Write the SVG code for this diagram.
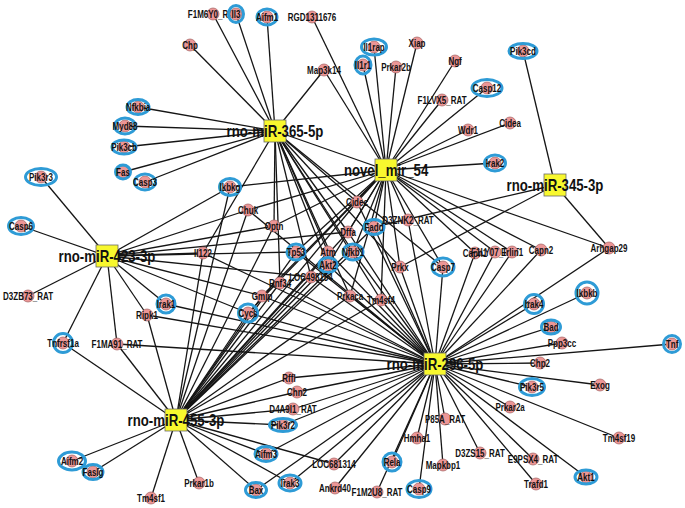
<svg xmlns="http://www.w3.org/2000/svg" width="685" height="508" viewBox="0 0 685 508">
<style>
.e line{stroke:#151515;stroke-width:1.3;}
.n{fill:#ec9696;stroke:#a06060;stroke-width:0.7;}
.r{fill:none;stroke:#2e9bd6;stroke-width:3;}
.h{fill:#f8f82e;stroke:#6a6a6a;stroke-width:0.8;}
.t{font-family:"Liberation Sans",Arial,sans-serif;font-size:10px;font-weight:bold;text-anchor:middle;fill:#111;transform-box:fill-box;transform-origin:center;transform:scaleX(0.8);}
.ht{font-family:"Liberation Sans",Arial,sans-serif;font-size:16.5px;font-weight:bold;text-anchor:middle;fill:#111;transform-box:fill-box;transform-origin:center;transform:scaleX(0.8);}
</style>
<rect width="685" height="508" fill="#fff"/>
<g id="connectors" class="e">
<!-- rno-miR-365-5p -->
<line x1="275" y1="131" x2="213" y2="14"/><line x1="275" y1="131" x2="236" y2="14"/><line x1="275" y1="131" x2="267" y2="17"/><line x1="275" y1="131" x2="190" y2="45"/><line x1="275" y1="131" x2="324" y2="70"/><line x1="275" y1="131" x2="138" y2="107"/><line x1="275" y1="131" x2="125" y2="126"/><line x1="275" y1="131" x2="124" y2="147"/><line x1="275" y1="131" x2="123" y2="172"/><line x1="275" y1="131" x2="145" y2="182"/><line x1="275" y1="131" x2="203" y2="253"/><line x1="275" y1="131" x2="274" y2="226"/><line x1="275" y1="131" x2="280" y2="283"/><line x1="275" y1="131" x2="328" y2="252"/><line x1="275" y1="131" x2="328" y2="265"/><line x1="275" y1="131" x2="353" y2="252"/><line x1="275" y1="131" x2="348" y2="232"/><line x1="275" y1="131" x2="357" y2="202"/><line x1="275" y1="131" x2="350" y2="296"/><line x1="275" y1="131" x2="381" y2="300"/><line x1="275" y1="131" x2="443" y2="267"/><line x1="275" y1="131" x2="400" y2="267"/><line x1="275" y1="131" x2="311" y2="277"/><line x1="275" y1="131" x2="609" y2="248"/>
<!-- novel_mir_54 -->
<line x1="386" y1="170" x2="312" y2="17"/><line x1="386" y1="170" x2="324" y2="70"/><line x1="386" y1="170" x2="374" y2="47"/><line x1="386" y1="170" x2="363" y2="65"/><line x1="386" y1="170" x2="396" y2="67"/><line x1="386" y1="170" x2="417" y2="43"/><line x1="386" y1="170" x2="455" y2="61"/><line x1="386" y1="170" x2="442" y2="100"/><line x1="386" y1="170" x2="487" y2="88"/><line x1="386" y1="170" x2="468" y2="130"/><line x1="386" y1="170" x2="510" y2="123"/><line x1="386" y1="170" x2="495" y2="163"/><line x1="386" y1="170" x2="230" y2="187"/><line x1="386" y1="170" x2="248" y2="210"/><line x1="386" y1="170" x2="274" y2="226"/><line x1="386" y1="170" x2="296" y2="252"/><line x1="386" y1="170" x2="357" y2="202"/><line x1="386" y1="170" x2="348" y2="232"/><line x1="386" y1="170" x2="374" y2="227"/><line x1="386" y1="170" x2="353" y2="252"/><line x1="386" y1="170" x2="328" y2="265"/><line x1="386" y1="170" x2="408" y2="220"/><line x1="386" y1="170" x2="400" y2="267"/><line x1="386" y1="170" x2="443" y2="267"/><line x1="386" y1="170" x2="475" y2="253"/><line x1="386" y1="170" x2="495" y2="252"/><line x1="386" y1="170" x2="512" y2="252"/><line x1="386" y1="170" x2="541" y2="250"/><line x1="386" y1="170" x2="381" y2="300"/><line x1="386" y1="170" x2="350" y2="296"/><line x1="386" y1="170" x2="262" y2="296"/><line x1="386" y1="170" x2="248" y2="313"/>
<!-- rno-miR-345-3p -->
<line x1="555" y1="185" x2="523" y2="51"/><line x1="555" y1="185" x2="609" y2="248"/><line x1="555" y1="185" x2="374" y2="227"/><line x1="555" y1="185" x2="400" y2="267"/>
<!-- rno-miR-423-3p -->
<line x1="107" y1="256" x2="41" y2="177"/><line x1="107" y1="256" x2="21" y2="226"/><line x1="107" y1="256" x2="28" y2="296"/><line x1="107" y1="256" x2="63" y2="343"/><line x1="107" y1="256" x2="117" y2="344"/><line x1="107" y1="256" x2="147" y2="315"/><line x1="107" y1="256" x2="166" y2="304"/><line x1="107" y1="256" x2="203" y2="253"/><line x1="107" y1="256" x2="296" y2="252"/><line x1="107" y1="256" x2="230" y2="187"/><line x1="107" y1="256" x2="248" y2="210"/><line x1="107" y1="256" x2="274" y2="226"/><line x1="107" y1="256" x2="348" y2="232"/><line x1="107" y1="256" x2="311" y2="277"/><line x1="107" y1="256" x2="262" y2="296"/><line x1="107" y1="256" x2="248" y2="313"/>
<!-- rno-miR-296-5p -->
<line x1="435" y1="364" x2="443" y2="267"/><line x1="435" y1="364" x2="400" y2="267"/><line x1="435" y1="364" x2="381" y2="300"/><line x1="435" y1="364" x2="374" y2="227"/><line x1="435" y1="364" x2="353" y2="252"/><line x1="435" y1="364" x2="348" y2="232"/><line x1="435" y1="364" x2="357" y2="202"/><line x1="435" y1="364" x2="328" y2="252"/><line x1="435" y1="364" x2="328" y2="265"/><line x1="435" y1="364" x2="296" y2="252"/><line x1="435" y1="364" x2="311" y2="277"/><line x1="435" y1="364" x2="280" y2="283"/><line x1="435" y1="364" x2="262" y2="296"/><line x1="435" y1="364" x2="248" y2="313"/><line x1="435" y1="364" x2="350" y2="296"/><line x1="435" y1="364" x2="248" y2="210"/><line x1="435" y1="364" x2="203" y2="253"/><line x1="435" y1="364" x2="147" y2="315"/><line x1="435" y1="364" x2="166" y2="304"/><line x1="435" y1="364" x2="117" y2="344"/><line x1="435" y1="364" x2="408" y2="220"/><line x1="435" y1="364" x2="475" y2="253"/><line x1="435" y1="364" x2="495" y2="252"/><line x1="435" y1="364" x2="512" y2="252"/><line x1="435" y1="364" x2="541" y2="250"/><line x1="435" y1="364" x2="609" y2="248"/><line x1="435" y1="364" x2="534" y2="304"/><line x1="435" y1="364" x2="587" y2="293"/><line x1="435" y1="364" x2="551" y2="327"/><line x1="435" y1="364" x2="562" y2="343"/><line x1="435" y1="364" x2="672" y2="344"/><line x1="435" y1="364" x2="540" y2="363"/><line x1="435" y1="364" x2="532" y2="387"/><line x1="435" y1="364" x2="600" y2="385"/><line x1="435" y1="364" x2="510" y2="407"/><line x1="435" y1="364" x2="619" y2="438"/><line x1="435" y1="364" x2="586" y2="477"/><line x1="435" y1="364" x2="536" y2="484"/><line x1="435" y1="364" x2="533" y2="459"/><line x1="435" y1="364" x2="480" y2="453"/><line x1="435" y1="364" x2="445" y2="419"/><line x1="435" y1="364" x2="443" y2="465"/><line x1="435" y1="364" x2="417" y2="438"/><line x1="435" y1="364" x2="419" y2="489"/><line x1="435" y1="364" x2="392" y2="462"/><line x1="435" y1="364" x2="377" y2="492"/><line x1="435" y1="364" x2="335" y2="488"/><line x1="435" y1="364" x2="334" y2="464"/><line x1="435" y1="364" x2="290" y2="483"/><line x1="435" y1="364" x2="256" y2="490"/><line x1="435" y1="364" x2="266" y2="454"/><line x1="435" y1="364" x2="283" y2="425"/><line x1="435" y1="364" x2="293" y2="409"/><line x1="435" y1="364" x2="297" y2="392"/><line x1="435" y1="364" x2="289" y2="378"/>
<!-- rno-miR-455-3p -->
<line x1="176" y1="420" x2="63" y2="343"/><line x1="176" y1="420" x2="117" y2="344"/><line x1="176" y1="420" x2="72" y2="461"/><line x1="176" y1="420" x2="93" y2="472"/><line x1="176" y1="420" x2="151" y2="498"/><line x1="176" y1="420" x2="199" y2="483"/><line x1="176" y1="420" x2="289" y2="378"/><line x1="176" y1="420" x2="297" y2="392"/><line x1="176" y1="420" x2="293" y2="409"/><line x1="176" y1="420" x2="283" y2="425"/><line x1="176" y1="420" x2="266" y2="454"/><line x1="176" y1="420" x2="334" y2="464"/><line x1="176" y1="420" x2="256" y2="490"/><line x1="176" y1="420" x2="290" y2="483"/><line x1="176" y1="420" x2="147" y2="315"/><line x1="176" y1="420" x2="203" y2="253"/><line x1="176" y1="420" x2="230" y2="187"/><line x1="176" y1="420" x2="248" y2="210"/><line x1="176" y1="420" x2="274" y2="226"/><line x1="176" y1="420" x2="296" y2="252"/><line x1="176" y1="420" x2="357" y2="202"/><line x1="176" y1="420" x2="348" y2="232"/><line x1="176" y1="420" x2="374" y2="227"/><line x1="176" y1="420" x2="353" y2="252"/><line x1="176" y1="420" x2="328" y2="252"/><line x1="176" y1="420" x2="328" y2="265"/><line x1="176" y1="420" x2="311" y2="277"/><line x1="176" y1="420" x2="280" y2="283"/><line x1="176" y1="420" x2="262" y2="296"/><line x1="176" y1="420" x2="248" y2="313"/><line x1="176" y1="420" x2="350" y2="296"/><line x1="176" y1="420" x2="381" y2="300"/>
</g>
<g id="nodes">
<g id="F1M6Y0_RAT"><circle class="n" cx="213" cy="14" r="6"/><text class="t" x="213" y="17.6">F1M6Y0_RAT</text></g>
<g id="Il3"><circle class="n" cx="236" cy="14" r="6"/><ellipse class="r" cx="236" cy="14" rx="7.5" ry="8.5"/><text class="t" x="236" y="17.6">Il3</text></g>
<g id="Aifm1"><circle class="n" cx="267" cy="17" r="6"/><ellipse class="r" cx="267" cy="17" rx="10" ry="8"/><text class="t" x="267" y="20.6">Aifm1</text></g>
<g id="RGD1311676"><circle class="n" cx="312" cy="17" r="6"/><text class="t" x="312" y="20.6">RGD1311676</text></g>
<g id="Chp"><circle class="n" cx="190" cy="45" r="6"/><text class="t" x="190" y="48.6">Chp</text></g>
<g id="Map3k14"><circle class="n" cx="324" cy="70" r="6"/><text class="t" x="324" y="73.6">Map3k14</text></g>
<g id="Il1rap"><circle class="n" cx="374" cy="47" r="6"/><ellipse class="r" cx="374" cy="47" rx="12.5" ry="8"/><text class="t" x="374" y="50.6">Il1rap</text></g>
<g id="Xiap"><circle class="n" cx="417" cy="43" r="6"/><text class="t" x="417" y="46.6">Xiap</text></g>
<g id="Il1r1"><circle class="n" cx="363" cy="65" r="6"/><ellipse class="r" cx="363" cy="65" rx="8" ry="9"/><text class="t" x="363" y="68.6">Il1r1</text></g>
<g id="Prkar2b"><circle class="n" cx="396" cy="67" r="6"/><text class="t" x="396" y="70.6">Prkar2b</text></g>
<g id="Ngf"><circle class="n" cx="455" cy="61" r="6"/><text class="t" x="455" y="64.6">Ngf</text></g>
<g id="F1LVX5_RAT"><circle class="n" cx="442" cy="100" r="6"/><text class="t" x="442" y="103.6">F1LVX5_RAT</text></g>
<g id="Casp12"><circle class="n" cx="487" cy="88" r="6"/><ellipse class="r" cx="487" cy="88" rx="15" ry="8.5"/><text class="t" x="487" y="91.6">Casp12</text></g>
<g id="Wdr1"><circle class="n" cx="468" cy="130" r="6"/><text class="t" x="468" y="133.6">Wdr1</text></g>
<g id="Cidea"><circle class="n" cx="510" cy="123" r="6"/><text class="t" x="510" y="126.6">Cidea</text></g>
<g id="Irak2"><circle class="n" cx="495" cy="163" r="6"/><ellipse class="r" cx="495" cy="163" rx="10.5" ry="8"/><text class="t" x="495" y="166.6">Irak2</text></g>
<g id="Pik3cd"><circle class="n" cx="523" cy="51" r="6"/><ellipse class="r" cx="523" cy="51" rx="14" ry="7.5"/><text class="t" x="523" y="54.6">Pik3cd</text></g>
<g id="Nfkbia"><circle class="n" cx="138" cy="107" r="6"/><ellipse class="r" cx="138" cy="107" rx="11" ry="7.5"/><text class="t" x="138" y="110.6">Nfkbia</text></g>
<g id="Myd88"><circle class="n" cx="125" cy="126" r="6"/><ellipse class="r" cx="125" cy="126" rx="10.5" ry="8"/><text class="t" x="125" y="129.6">Myd88</text></g>
<g id="Pik3cb"><circle class="n" cx="124" cy="147" r="6"/><ellipse class="r" cx="124" cy="147" rx="12" ry="7"/><text class="t" x="124" y="150.6">Pik3cb</text></g>
<g id="Fas"><circle class="n" cx="123" cy="172" r="6"/><ellipse class="r" cx="123" cy="172" rx="7.5" ry="7"/><text class="t" x="123" y="175.6">Fas</text></g>
<g id="Casp3"><circle class="n" cx="145" cy="182" r="6"/><ellipse class="r" cx="145" cy="182" rx="10.5" ry="8"/><text class="t" x="145" y="185.6">Casp3</text></g>
<g id="Pik3r3"><circle class="n" cx="41" cy="177" r="6"/><ellipse class="r" cx="41" cy="177" rx="15.5" ry="8.5"/><text class="t" x="41" y="180.6">Pik3r3</text></g>
<g id="Casp6"><circle class="n" cx="21" cy="226" r="6"/><ellipse class="r" cx="21" cy="226" rx="12.5" ry="8.5"/><text class="t" x="21" y="229.6">Casp6</text></g>
<g id="D3ZB73_RAT"><circle class="n" cx="28" cy="296" r="6"/><text class="t" x="28" y="299.6">D3ZB73_RAT</text></g>
<g id="Ikbkg"><circle class="n" cx="230" cy="187" r="6"/><ellipse class="r" cx="230" cy="187" rx="10.5" ry="8.5"/><text class="t" x="230" y="190.6">Ikbkg</text></g>
<g id="Chuk"><circle class="n" cx="248" cy="210" r="6"/><text class="t" x="248" y="213.6">Chuk</text></g>
<g id="Il122"><circle class="n" cx="203" cy="253" r="6"/><text class="t" x="203" y="256.6">Il122</text></g>
<g id="Optn"><circle class="n" cx="274" cy="226" r="6"/><text class="t" x="274" y="229.6">Optn</text></g>
<g id="Cidec"><circle class="n" cx="357" cy="202" r="6"/><text class="t" x="357" y="205.6">Cidec</text></g>
<g id="Fadd"><circle class="n" cx="374" cy="227" r="6"/><ellipse class="r" cx="374" cy="227" rx="10" ry="7.5"/><text class="t" x="374" y="230.6">Fadd</text></g>
<g id="D3ZNK2_RAT"><circle class="n" cx="408" cy="220" r="6"/><text class="t" x="408" y="223.6">D3ZNK2_RAT</text></g>
<g id="Dffa"><circle class="n" cx="348" cy="232" r="6"/><text class="t" x="348" y="235.6">Dffa</text></g>
<g id="Tp53"><circle class="n" cx="296" cy="252" r="6"/><ellipse class="r" cx="296" cy="252" rx="9" ry="8"/><text class="t" x="296" y="255.6">Tp53</text></g>
<g id="Atm"><circle class="n" cx="328" cy="252" r="6"/><text class="t" x="328" y="255.6">Atm</text></g>
<g id="Nfkb1"><circle class="n" cx="353" cy="252" r="6"/><ellipse class="r" cx="353" cy="252" rx="10" ry="8"/><text class="t" x="353" y="255.6">Nfkb1</text></g>
<g id="Akt2"><circle class="n" cx="328" cy="265" r="6"/><ellipse class="r" cx="328" cy="265" rx="9" ry="7.5"/><text class="t" x="328" y="268.6">Akt2</text></g>
<g id="LOC498154"><circle class="n" cx="311" cy="277" r="6"/><text class="t" x="311" y="280.6">LOC498154</text></g>
<g id="Rnf34"><circle class="n" cx="280" cy="283" r="6"/><text class="t" x="280" y="286.6">Rnf34</text></g>
<g id="Prkx"><circle class="n" cx="400" cy="267" r="6"/><text class="t" x="400" y="270.6">Prkx</text></g>
<g id="Casp7"><circle class="n" cx="443" cy="267" r="6"/><ellipse class="r" cx="443" cy="267" rx="11" ry="9"/><text class="t" x="443" y="270.6">Casp7</text></g>
<g id="Gmip"><circle class="n" cx="262" cy="296" r="6"/><text class="t" x="262" y="299.6">Gmip</text></g>
<g id="Cycs"><circle class="n" cx="248" cy="313" r="6"/><ellipse class="r" cx="248" cy="313" rx="9.5" ry="9"/><text class="t" x="248" y="316.6">Cycs</text></g>
<g id="Prkaca"><circle class="n" cx="350" cy="296" r="6"/><text class="t" x="350" y="299.6">Prkaca</text></g>
<g id="Tm4sf4"><circle class="n" cx="381" cy="300" r="6"/><text class="t" x="381" y="303.6">Tm4sf4</text></g>
<g id="Capn1"><circle class="n" cx="475" cy="253" r="6"/><text class="t" x="475" y="256.6">Capn1</text></g>
<g id="F1LY07_RAT"><circle class="n" cx="495" cy="252" r="6"/><text class="t" x="495" y="255.6">F1LY07_RAT</text></g>
<g id="Erlin1"><circle class="n" cx="512" cy="252" r="6"/><text class="t" x="512" y="255.6">Erlin1</text></g>
<g id="Capn2"><circle class="n" cx="541" cy="250" r="6"/><text class="t" x="541" y="253.6">Capn2</text></g>
<g id="Arhgap29"><circle class="n" cx="609" cy="248" r="6"/><text class="t" x="609" y="251.6">Arhgap29</text></g>
<g id="Irak1"><circle class="n" cx="166" cy="304" r="6"/><ellipse class="r" cx="166" cy="304" rx="9" ry="9"/><text class="t" x="166" y="307.6">Irak1</text></g>
<g id="Ripk1"><circle class="n" cx="147" cy="315" r="6"/><text class="t" x="147" y="318.6">Ripk1</text></g>
<g id="Tnfrsf1a"><circle class="n" cx="63" cy="343" r="6"/><ellipse class="r" cx="63" cy="343" rx="9.5" ry="9.5"/><text class="t" x="63" y="346.6">Tnfrsf1a</text></g>
<g id="F1MA91_RAT"><circle class="n" cx="117" cy="344" r="6"/><text class="t" x="117" y="347.6">F1MA91_RAT</text></g>
<g id="Ikbkb"><circle class="n" cx="587" cy="293" r="6"/><ellipse class="r" cx="587" cy="293" rx="11" ry="11"/><text class="t" x="587" y="296.6">Ikbkb</text></g>
<g id="Irak4"><circle class="n" cx="534" cy="304" r="6"/><ellipse class="r" cx="534" cy="304" rx="9.5" ry="9.5"/><text class="t" x="534" y="307.6">Irak4</text></g>
<g id="Bad"><circle class="n" cx="551" cy="327" r="6"/><ellipse class="r" cx="551" cy="327" rx="9.5" ry="7"/><text class="t" x="551" y="330.6">Bad</text></g>
<g id="Ppp3cc"><circle class="n" cx="562" cy="343" r="6"/><text class="t" x="562" y="346.6">Ppp3cc</text></g>
<g id="Tnf"><circle class="n" cx="672" cy="344" r="6"/><ellipse class="r" cx="672" cy="344" rx="8.5" ry="8.5"/><text class="t" x="672" y="347.6">Tnf</text></g>
<g id="Chp2"><circle class="n" cx="540" cy="363" r="6"/><text class="t" x="540" y="366.6">Chp2</text></g>
<g id="Pik3r5"><circle class="n" cx="532" cy="387" r="6"/><ellipse class="r" cx="532" cy="387" rx="12.5" ry="8.5"/><text class="t" x="532" y="390.6">Pik3r5</text></g>
<g id="Exog"><circle class="n" cx="600" cy="385" r="6"/><text class="t" x="600" y="388.6">Exog</text></g>
<g id="Prkar2a"><circle class="n" cx="510" cy="407" r="6"/><text class="t" x="510" y="410.6">Prkar2a</text></g>
<g id="P85A_RAT"><circle class="n" cx="445" cy="419" r="6"/><text class="t" x="445" y="422.6">P85A_RAT</text></g>
<g id="Tm4sf19"><circle class="n" cx="619" cy="438" r="6"/><text class="t" x="619" y="441.6">Tm4sf19</text></g>
<g id="Mapkbp1"><circle class="n" cx="443" cy="465" r="6"/><text class="t" x="443" y="468.6">Mapkbp1</text></g>
<g id="D3ZS15_RAT"><circle class="n" cx="480" cy="453" r="6"/><text class="t" x="480" y="456.6">D3ZS15_RAT</text></g>
<g id="E9PSX4_RAT"><circle class="n" cx="533" cy="459" r="6"/><text class="t" x="533" y="462.6">E9PSX4_RAT</text></g>
<g id="Akt1"><circle class="n" cx="586" cy="477" r="6"/><ellipse class="r" cx="586" cy="477" rx="11" ry="7"/><text class="t" x="586" y="480.6">Akt1</text></g>
<g id="Trafd1"><circle class="n" cx="536" cy="484" r="6"/><text class="t" x="536" y="487.6">Trafd1</text></g>
<g id="Rffl"><circle class="n" cx="289" cy="378" r="6"/><text class="t" x="289" y="381.6">Rffl</text></g>
<g id="Chn2"><circle class="n" cx="297" cy="392" r="6"/><text class="t" x="297" y="395.6">Chn2</text></g>
<g id="D4A9I1_RAT"><circle class="n" cx="293" cy="409" r="6"/><text class="t" x="293" y="412.6">D4A9I1_RAT</text></g>
<g id="Pik3r2"><circle class="n" cx="283" cy="425" r="6"/><ellipse class="r" cx="283" cy="425" rx="13.5" ry="6.5"/><text class="t" x="283" y="428.6">Pik3r2</text></g>
<g id="Aifm3"><circle class="n" cx="266" cy="454" r="6"/><ellipse class="r" cx="266" cy="454" rx="11" ry="7.5"/><text class="t" x="266" y="457.6">Aifm3</text></g>
<g id="LOC681314"><circle class="n" cx="334" cy="464" r="6"/><text class="t" x="334" y="467.6">LOC681314</text></g>
<g id="Hmha1"><circle class="n" cx="417" cy="438" r="6"/><text class="t" x="417" y="441.6">Hmha1</text></g>
<g id="Rela"><circle class="n" cx="392" cy="462" r="6"/><ellipse class="r" cx="392" cy="462" rx="9" ry="9"/><text class="t" x="392" y="465.6">Rela</text></g>
<g id="Bax"><circle class="n" cx="256" cy="490" r="6"/><ellipse class="r" cx="256" cy="490" rx="10.5" ry="7.5"/><text class="t" x="256" y="493.6">Bax</text></g>
<g id="Irak3"><circle class="n" cx="290" cy="483" r="6"/><ellipse class="r" cx="290" cy="483" rx="11" ry="8"/><text class="t" x="290" y="486.6">Irak3</text></g>
<g id="Ankrd40"><circle class="n" cx="335" cy="488" r="6"/><text class="t" x="335" y="491.6">Ankrd40</text></g>
<g id="F1M2U8_RAT"><circle class="n" cx="377" cy="492" r="6"/><text class="t" x="377" y="495.6">F1M2U8_RAT</text></g>
<g id="Casp9"><circle class="n" cx="419" cy="489" r="6"/><ellipse class="r" cx="419" cy="489" rx="12" ry="8.5"/><text class="t" x="419" y="492.6">Casp9</text></g>
<g id="Aifm2"><circle class="n" cx="72" cy="461" r="6"/><ellipse class="r" cx="72" cy="461" rx="13.5" ry="9"/><text class="t" x="72" y="464.6">Aifm2</text></g>
<g id="Faslg"><circle class="n" cx="93" cy="472" r="6"/><ellipse class="r" cx="93" cy="472" rx="10" ry="7.5"/><text class="t" x="93" y="475.6">Faslg</text></g>
<g id="Prkar1b"><circle class="n" cx="199" cy="483" r="6"/><text class="t" x="199" y="486.6">Prkar1b</text></g>
<g id="Tm4sf1"><circle class="n" cx="151" cy="498" r="6"/><text class="t" x="151" y="501.6">Tm4sf1</text></g>
</g>
<g id="hubs">
<g id="rno-miR-365-5p"><rect class="h" x="264" y="120" width="22" height="22"/><text class="ht" x="275" y="137">rno-miR-365-5p</text></g>
<g id="novel_mir_54"><rect class="h" x="375" y="159" width="22" height="22"/><text class="ht" x="386" y="176">novel_mir_54</text></g>
<g id="rno-miR-345-3p"><rect class="h" x="544" y="174" width="22" height="22"/><text class="ht" x="555" y="191">rno-miR-345-3p</text></g>
<g id="rno-miR-423-3p"><rect class="h" x="96" y="245" width="22" height="22"/><text class="ht" x="107" y="262">rno-miR-423-3p</text></g>
<g id="rno-miR-296-5p"><rect class="h" x="424" y="353" width="22" height="22"/><text class="ht" x="435" y="370">rno-miR-296-5p</text></g>
<g id="rno-miR-455-3p"><rect class="h" x="165" y="409" width="22" height="22"/><text class="ht" x="176" y="426">rno-miR-455-3p</text></g>
</g>
</svg>
